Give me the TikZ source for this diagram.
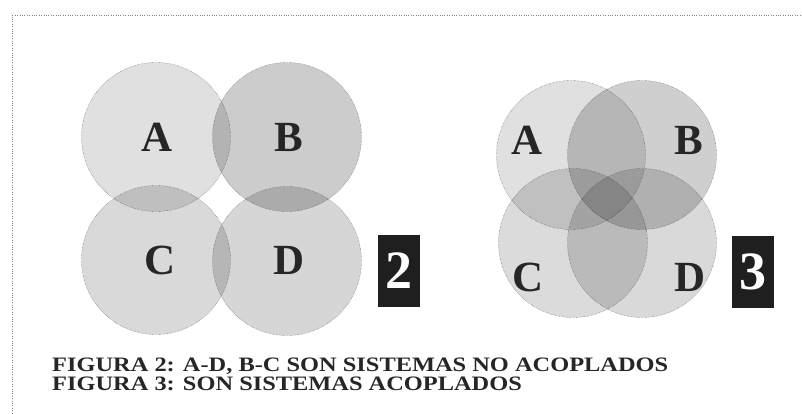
\documentclass[tikz,border=0pt]{standalone}
\usepackage{fontspec}
\setmainfont{Liberation Serif}
\usepackage{tikz}

\tikzset{
  disc/.style={circle, draw=black!70, densely dotted, fill=black, fill opacity=#1, minimum size=149pt, inner sep=0pt},
  letter/.style={font=\fontsize{43}{43}\selectfont\bfseries, text=black!85},
  numbox/.style={fill=black!88, text=white, font=\fontsize{54}{54}\selectfont\bfseries, minimum width=42pt, minimum height=72pt, inner sep=0pt},
  caption/.style={font=\fontsize{20.5}{20.5}\selectfont\bfseries, anchor=base west, inner sep=0pt, text=black!85, xscale=1.19}
}

\begin{document}
\begin{tikzpicture}[x=1pt, y=-1pt]
        \useasboundingbox (0,0) rectangle (802,413);
        \draw[gray, dotted] (12,413) -- (12,15) -- (802,15);
        % figura 2
        \node[disc=0.12] (a2) at (156,137) {};
        \node[disc=0.20] (b2) at (287,137) {};
        \node[disc=0.15] (c2) at (156,260) {};
        \node[disc=0.16] (d2) at (287,261) {};
        \node[letter] (la2) at (157,137) {A};
        \node[letter] (lb2) at (289,137) {B};
        \node[letter] (lc2) at (160,260) {C};
        \node[letter] (ld2) at (289,260) {D};
        \node[numbox] (n2) at (399,271) {2};
        % figura 3
        \node[disc=0.12] (a3) at (571,155) {};
        \node[disc=0.19] (b3) at (642,155) {};
        \node[disc=0.14] (c3) at (573,243) {};
        \node[disc=0.15] (d3) at (642,243) {};
        \node[letter] (la3) at (527,140) {A};
        \node[letter] (lb3) at (689,140) {B};
        \node[letter] (lc3) at (528,277) {C};
        \node[letter] (ld3) at (690,277) {D};
        \node[numbox] (n3) at (753,272) {3};
        % texto
        \node[caption] (cap2) at (52,371) {FIGURA 2: A-D, B-C SON SISTEMAS NO ACOPLADOS};
        \node[caption] (cap3) at (52,390) {FIGURA 3: SON SISTEMAS ACOPLADOS};
\end{tikzpicture}
\end{document}
